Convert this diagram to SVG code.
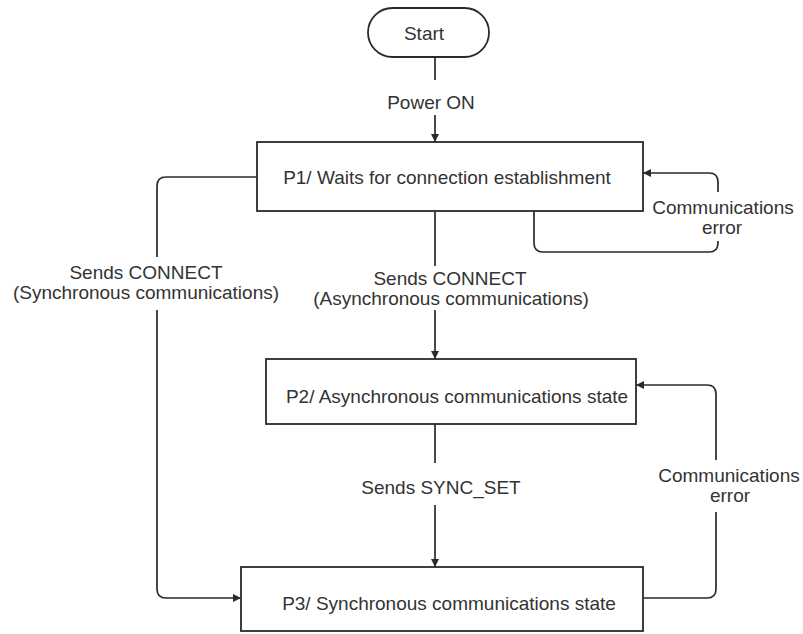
<svg xmlns="http://www.w3.org/2000/svg" width="803" height="634" viewBox="0 0 803 634">
<style>
.box{fill:#fff;stroke:#2a2a2a;stroke-width:1.8}
.t{font-family:"Liberation Sans",Arial,sans-serif;font-size:19px;fill:#333;text-anchor:middle;dominant-baseline:central}
.c{fill:none;stroke:#2a2a2a;stroke-width:1.7}
</style>
<defs>
<marker id="arr" viewBox="0 0 10 10" refX="10" refY="5" markerWidth="9" markerHeight="8" markerUnits="userSpaceOnUse" orient="auto">
<path d="M0,0 L10,5 L0,10 z" fill="#2a2a2a"/>
</marker>
</defs>
<rect width="803" height="634" fill="#fff"/>
<g id="connectors">
<path class="c" d="M435,57 V80"/>
<path class="c" d="M435,115 V142" marker-end="url(#arr)"/>
<path class="c" d="M435,211 V266"/>
<path class="c" d="M435,310 V359" marker-end="url(#arr)"/>
<path class="c" d="M435,424 V463"/>
<path class="c" d="M435,505 V567" marker-end="url(#arr)"/>
<path class="c" d="M257,177 H166 Q157,177 157,186 V257"/>
<path class="c" d="M157,310 V589 Q157,598 166,598 H241" marker-end="url(#arr)"/>
<path class="c" d="M718,241 V243 Q718,252 709,252 H543 Q534,252 534,243 V211"/>
<path class="c" d="M718,192 V182 Q718,173 709,173 H643" marker-end="url(#arr)"/>
<path class="c" d="M643,598 H707 Q716,598 716,589 V512"/>
<path class="c" d="M716,460 V394 Q716,385 707,385 H636" marker-end="url(#arr)"/>
<text class="t" x="431" y="102">Power ON</text>
<text class="t" x="146" y="272">Sends CONNECT</text>
<text class="t" x="146" y="292">(Synchronous communications)</text>
<text class="t" x="450" y="278">Sends CONNECT</text>
<text class="t" x="451" y="298">(Asynchronous communications)</text>
<text class="t" x="441" y="487">Sends SYNC_SET</text>
<text class="t" x="723" y="207">Communications</text>
<text class="t" x="722" y="227">error</text>
<text class="t" x="729" y="475">Communications</text>
<text class="t" x="730" y="495">error</text>
</g>
<g id="start">
<rect class="box" x="368" y="8" width="121" height="49" rx="24.5"/>
<text class="t" x="424" y="33">Start</text>
</g>
<g id="p1">
<rect class="box" x="257" y="142" width="386" height="69"/>
<text class="t" x="447" y="177">P1/ Waits for connection establishment</text>
</g>
<g id="p2">
<rect class="box" x="266" y="359" width="370" height="65"/>
<text class="t" x="457" y="396">P2/ Asynchronous communications state</text>
</g>
<g id="p3">
<rect class="box" x="241" y="567" width="402" height="64"/>
<text class="t" x="449" y="603">P3/ Synchronous communications state</text>
</g>
</svg>
